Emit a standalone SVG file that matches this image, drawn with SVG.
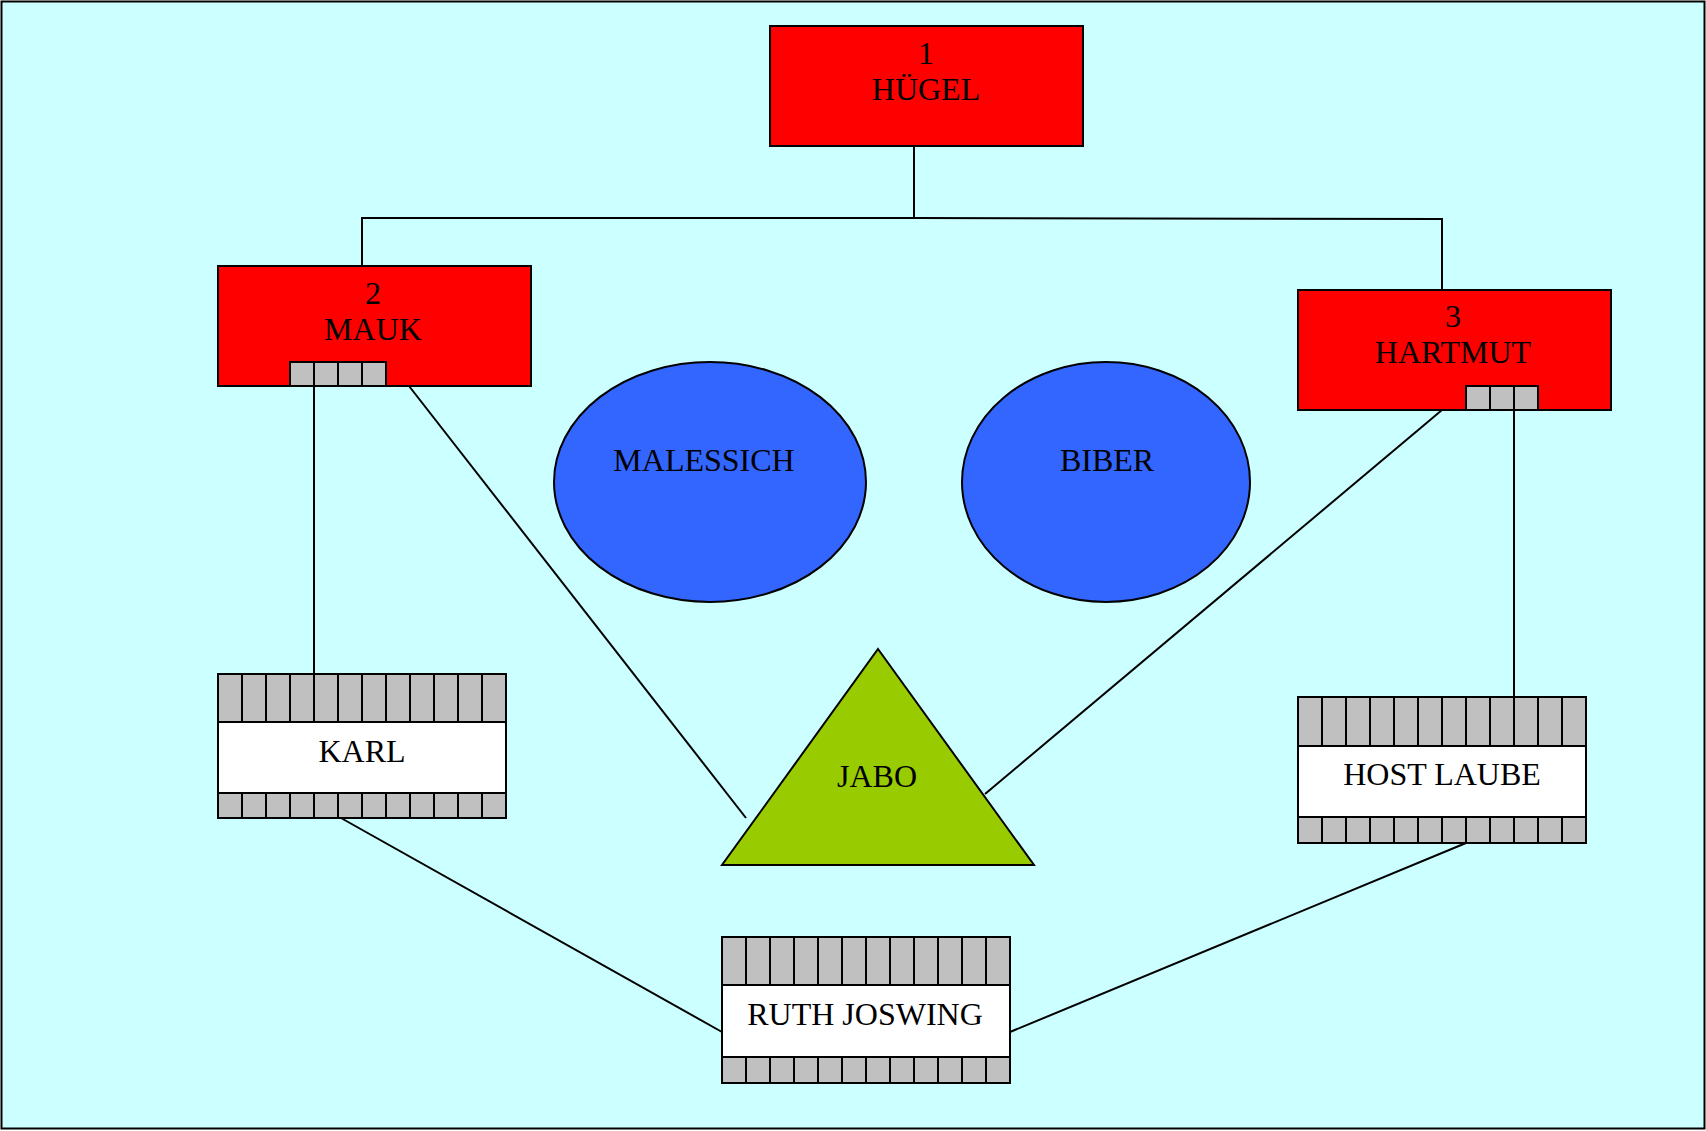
<svg xmlns="http://www.w3.org/2000/svg" width="1706" height="1131" viewBox="0 0 1706 1131">
<style>
.s{stroke:#000;stroke-width:2}
.red{fill:#FF0000}
.blue{fill:#3366FF}
.green{fill:#99CC00}
.g{fill:#C0C0C0}
.w{fill:#FFFFFF}
.ln{fill:none;stroke:#000;stroke-width:2}
text{font-family:"Liberation Serif","Times New Roman",serif;font-size:32px;fill:#000;text-anchor:middle}
</style>
<rect x="1.5" y="1.5" width="1703" height="1127" fill="#CCFFFF" stroke="#000" stroke-width="2"/>
<g id="connectors">
<polyline class="ln" points="362,266 362,218 914,218 914,146"/>
<polyline class="ln" points="914,218 1442,219 1442,290"/>
<line class="ln" x1="314" y1="386" x2="314" y2="674"/>
<line class="ln" x1="409" y1="386" x2="746" y2="818"/>
<line class="ln" x1="1514" y1="410" x2="1514" y2="697"/>
<line class="ln" x1="1442" y1="410" x2="985" y2="794"/>
<line class="ln" x1="341" y1="818" x2="722" y2="1032"/>
<line class="ln" x1="1466" y1="843" x2="1010" y2="1032"/>
</g>
<g id="n1">
<rect class="red s" x="770" y="26" width="313" height="120"/>
<text x="926" y="64">1</text>
<text x="926" y="100">HÜGEL</text>
</g>
<g id="n2">
<rect class="red s" x="218" y="266" width="313" height="120"/>
<text x="373" y="304">2</text>
<text x="373" y="340">MAUK</text>
<rect class="g s" x="290" y="362" width="24" height="24"/>
<rect class="g s" x="314" y="362" width="24" height="24"/>
<rect class="g s" x="338" y="362" width="24" height="24"/>
<rect class="g s" x="362" y="362" width="24" height="24"/>
</g>
<g id="n3">
<rect class="red s" x="1298" y="290" width="313" height="120"/>
<text x="1453" y="327">3</text>
<text x="1453" y="363">HARTMUT</text>
<rect class="g s" x="1466" y="386" width="24" height="24"/>
<rect class="g s" x="1490" y="386" width="24" height="24"/>
<rect class="g s" x="1514" y="386" width="24" height="24"/>
</g>
<g id="malessich">
<ellipse class="blue s" cx="710" cy="482" rx="156" ry="120"/>
<text x="704" y="471">MALESSICH</text>
</g>
<g id="biber">
<ellipse class="blue s" cx="1106" cy="482" rx="144" ry="120"/>
<text x="1107" y="471">BIBER</text>
</g>
<g id="jabo">
<polygon class="green s" points="878,649 1034,865 722,865"/>
<text x="877" y="787">JABO</text>
</g>
<g id="karl" transform="translate(218,674)">
<rect class="w s" x="0" y="48" width="288" height="71"/>
<g class="g s">
<rect x="0" y="0" width="24" height="48"/><rect x="24" y="0" width="24" height="48"/><rect x="48" y="0" width="24" height="48"/><rect x="72" y="0" width="24" height="48"/><rect x="96" y="0" width="24" height="48"/><rect x="120" y="0" width="24" height="48"/><rect x="144" y="0" width="24" height="48"/><rect x="168" y="0" width="24" height="48"/><rect x="192" y="0" width="24" height="48"/><rect x="216" y="0" width="24" height="48"/><rect x="240" y="0" width="24" height="48"/><rect x="264" y="0" width="24" height="48"/>
<rect x="0" y="119" width="24" height="25"/><rect x="24" y="119" width="24" height="25"/><rect x="48" y="119" width="24" height="25"/><rect x="72" y="119" width="24" height="25"/><rect x="96" y="119" width="24" height="25"/><rect x="120" y="119" width="24" height="25"/><rect x="144" y="119" width="24" height="25"/><rect x="168" y="119" width="24" height="25"/><rect x="192" y="119" width="24" height="25"/><rect x="216" y="119" width="24" height="25"/><rect x="240" y="119" width="24" height="25"/><rect x="264" y="119" width="24" height="25"/>
</g>
<text x="144" y="88">KARL</text>
</g>
<g id="hostlaube" transform="translate(1298,697)">
<rect class="w s" x="0" y="49" width="288" height="71"/>
<g class="g s">
<rect x="0" y="0" width="24" height="49"/><rect x="24" y="0" width="24" height="49"/><rect x="48" y="0" width="24" height="49"/><rect x="72" y="0" width="24" height="49"/><rect x="96" y="0" width="24" height="49"/><rect x="120" y="0" width="24" height="49"/><rect x="144" y="0" width="24" height="49"/><rect x="168" y="0" width="24" height="49"/><rect x="192" y="0" width="24" height="49"/><rect x="216" y="0" width="24" height="49"/><rect x="240" y="0" width="24" height="49"/><rect x="264" y="0" width="24" height="49"/>
<rect x="0" y="120" width="24" height="26"/><rect x="24" y="120" width="24" height="26"/><rect x="48" y="120" width="24" height="26"/><rect x="72" y="120" width="24" height="26"/><rect x="96" y="120" width="24" height="26"/><rect x="120" y="120" width="24" height="26"/><rect x="144" y="120" width="24" height="26"/><rect x="168" y="120" width="24" height="26"/><rect x="192" y="120" width="24" height="26"/><rect x="216" y="120" width="24" height="26"/><rect x="240" y="120" width="24" height="26"/><rect x="264" y="120" width="24" height="26"/>
</g>
<text x="144" y="88">HOST LAUBE</text>
</g>
<g id="ruth" transform="translate(722,937)">
<rect class="w s" x="0" y="48" width="288" height="72"/>
<g class="g s">
<rect x="0" y="0" width="24" height="48"/><rect x="24" y="0" width="24" height="48"/><rect x="48" y="0" width="24" height="48"/><rect x="72" y="0" width="24" height="48"/><rect x="96" y="0" width="24" height="48"/><rect x="120" y="0" width="24" height="48"/><rect x="144" y="0" width="24" height="48"/><rect x="168" y="0" width="24" height="48"/><rect x="192" y="0" width="24" height="48"/><rect x="216" y="0" width="24" height="48"/><rect x="240" y="0" width="24" height="48"/><rect x="264" y="0" width="24" height="48"/>
<rect x="0" y="120" width="24" height="26"/><rect x="24" y="120" width="24" height="26"/><rect x="48" y="120" width="24" height="26"/><rect x="72" y="120" width="24" height="26"/><rect x="96" y="120" width="24" height="26"/><rect x="120" y="120" width="24" height="26"/><rect x="144" y="120" width="24" height="26"/><rect x="168" y="120" width="24" height="26"/><rect x="192" y="120" width="24" height="26"/><rect x="216" y="120" width="24" height="26"/><rect x="240" y="120" width="24" height="26"/><rect x="264" y="120" width="24" height="26"/>
</g>
<text x="143" y="88">RUTH JOSWING</text>
</g>
</svg>
